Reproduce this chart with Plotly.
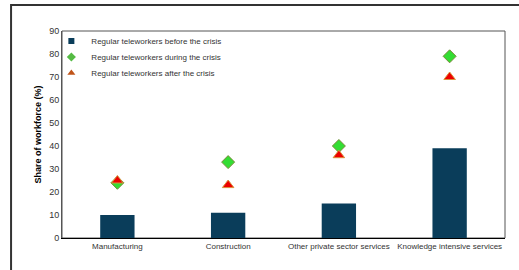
import plotly.graph_objects as go

categories = ["Manufacturing", "Construction", "Other private sector services", "Knowledge intensive services"]
before = [10, 11, 15, 39]
during = [24, 33, 40, 79]
after = [25, 23, 36, 70]
y_ticks = [0, 10, 20, 30, 40, 50, 60, 70, 80, 90]
names = ["Regular teleworkers before the crisis",
         "Regular teleworkers during the crisis",
         "Regular teleworkers after the crisis"]

BAR_C = "#0a3d5a"
fig = go.Figure()
fig.add_trace(go.Bar(x=categories, y=before, name=names[0], showlegend=False,
                     marker=dict(color=BAR_C, line=dict(width=0)), width=0.31))
fig.add_trace(go.Scatter(x=categories, y=during, mode="markers", name=names[1], showlegend=False,
                         marker=dict(symbol="diamond", size=10, color="#33dd33",
                                     line=dict(color="#7a8a3a", width=1))))
fig.add_trace(go.Scatter(x=categories, y=after, mode="markers", name=names[2], showlegend=False,
                         marker=dict(symbol="triangle-up", size=10, color="#ee0000",
                                     line=dict(color="#d9913a", width=1))))
# legend entries with small symbols (no data drawn), one legend each for exact spacing
fig.add_trace(go.Scatter(x=[None], y=[None], mode="markers", name=names[0], legend="legend",
                         marker=dict(symbol="square", size=6, color=BAR_C)))
fig.add_trace(go.Scatter(x=[None], y=[None], mode="markers", name=names[1], legend="legend2",
                         marker=dict(symbol="diamond", size=7, color="#55bb44")))
fig.add_trace(go.Scatter(x=[None], y=[None], mode="markers", name=names[2], legend="legend3",
                         marker=dict(symbol="triangle-up", size=7, color="#c0551a")))

leg = dict(x=-0.024, xanchor="left", yanchor="middle", bgcolor="rgba(0,0,0,0)",
           font=dict(size=8, color="#333333"), itemwidth=30)
fig.update_layout(
    width=519, height=270,
    margin=dict(l=62, r=14, t=31, b=32),
    paper_bgcolor="white", plot_bgcolor="white",
    font=dict(family="Liberation Sans, Arial", size=8, color="#333333"),
    showlegend=True,
    legend=dict(leg, y=0.9517),
    legend2=dict(leg, y=0.8744),
    legend3=dict(leg, y=0.7971),
    bargap=0.69,
)
fig.update_xaxes(showgrid=False, showline=True, linecolor="black", linewidth=1, ticks="",
                 tickfont=dict(size=8, color="#333333"), mirror=False)
fig.update_yaxes(range=[0, 90], tickvals=y_ticks, showgrid=False, zeroline=False,
                 showline=True, linecolor="#555555", linewidth=1, ticks="",
                 tickfont=dict(size=9, color="#333333"),
                 title=dict(text="<b>Share of workforce (%)</b>", font=dict(size=9, color="#000000"), standoff=6))

# plot area border (top & right)
fig.add_shape(type="rect", xref="paper", yref="paper", x0=0, x1=1, y0=0, y1=1,
              line=dict(color="#555555", width=1), layer="below")
# outer frame of the figure
fig.add_shape(type="rect", xref="paper", yref="paper", x0=-0.115, x1=1.2, y0=-0.4, y1=1.1256,
              line=dict(color="#333333", width=2))

fig.write_html("out.html", config={"displayModeBar": False},
               post_script="document.body.style.margin='0';")
